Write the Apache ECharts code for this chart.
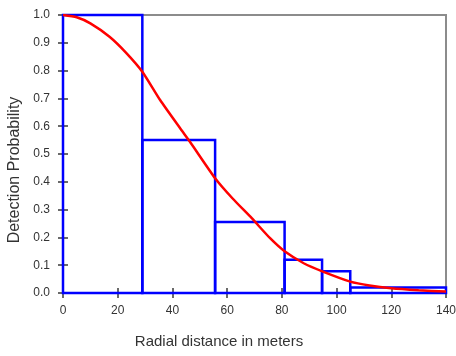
<!DOCTYPE html>
<html>
<head>
<meta charset="utf-8">
<script src="https://cdn.jsdelivr.net/npm/echarts@6/dist/echarts.min.js"></script>
<style>html,body{margin:0;padding:0;background:#fff;overflow:hidden}#c{width:456px;height:356px}</style>
</head>
<body>
<div id="c"></div>
<script>
// Histogram bins (radial distance edges) and heights
const binStarts = [0, 29, 55.6, 81, 94.7, 105];
const binEnds = [29, 55.6, 81, 94.7, 105, 140];
const binHeights = [1.0, 0.55, 0.255, 0.12, 0.078, 0.02];
// Fitted detection curve
const curveX = [0, 5, 10, 17, 23, 29, 35.5, 43, 46.4, 55.6, 62, 69, 75.7, 81, 88, 95, 105, 112, 120, 130, 140];
const curveY = [1.0, 0.992, 0.97, 0.922, 0.865, 0.796, 0.694, 0.59, 0.544, 0.413, 0.34, 0.269, 0.197, 0.150, 0.107, 0.077, 0.041, 0.027, 0.017, 0.01, 0.005];
const xTicks = [0, 20, 40, 60, 80, 100, 120, 140];
const yTicks = [0, 0.1, 0.2, 0.3, 0.4, 0.5, 0.6, 0.7, 0.8, 0.9, 1.0];
const xTitle = 'Radial distance in meters';
const yTitle = 'Detection Probability';

const binData = binStarts.map((s, i) => [s, binEnds[i], binHeights[i]]);
const curveData = curveX.map((x, i) => [x, curveY[i]]);
const font = 'Liberation Sans, Arial, sans-serif';
const tickColor = '#3a3a3a';

const chart = echarts.init(document.getElementById('c'));
chart.setOption({
  animation: false,
  grid: { left: 63, right: 10, top: 15, bottom: 63, containLabel: false, outerBoundsMode: 'none', show: true, borderColor: '#8c8c8c', borderWidth: 2, backgroundColor: '#fff' },
  xAxis: [{
    type: 'value', min: xTicks[0], max: xTicks[xTicks.length - 1], interval: 20,
    name: xTitle, nameLocation: 'middle', nameGap: 41,
    nameTextStyle: { fontFamily: font, fontSize: 15, color: '#333', padding: [0, 71, 0, 0] },
    axisLine: { show: true, lineStyle: { color: '#808080', width: 2 } },
    axisTick: { show: true, inside: false, length: 5, lineStyle: { color: tickColor, width: 1.5 } },
    axisLabel: { margin: 12, fontFamily: font, fontSize: 12, color: '#333', formatter: v => String(v) },
    splitLine: { show: false }
  }, {
    type: 'value', min: xTicks[0], max: xTicks[xTicks.length - 1], interval: 20, position: 'bottom',
    axisLine: { show: false },
    axisTick: { show: true, inside: true, length: 5, lineStyle: { color: tickColor, width: 1.5 } },
    axisLabel: { show: false }, splitLine: { show: false }
  }],
  yAxis: [{
    type: 'value', min: yTicks[0], max: yTicks[yTicks.length - 1], interval: 0.1,
    name: yTitle, nameLocation: 'middle', nameGap: 37,
    nameTextStyle: { fontFamily: font, fontSize: 16, color: '#333', padding: [0, 32, 0, 0] },
    axisLine: { show: true, lineStyle: { color: '#808080', width: 2 } },
    axisTick: { show: true, inside: false, length: 5, lineStyle: { color: tickColor, width: 1.5 } },
    axisLabel: { margin: 13, fontFamily: font, fontSize: 12, color: '#333', formatter: v => v.toFixed(1) },
    splitLine: { show: false }
  }, {
    type: 'value', min: yTicks[0], max: yTicks[yTicks.length - 1], interval: 0.1, position: 'left',
    axisLine: { show: false },
    axisTick: { show: true, inside: true, length: 5, lineStyle: { color: tickColor, width: 1.5 } },
    axisLabel: { show: false }, splitLine: { show: false }
  }],
  series: [{
    type: 'custom',
    xAxisIndex: 0, yAxisIndex: 0,
    data: binData,
    encode: { x: [0, 1], y: 2 },
    renderItem: function (params, api) {
      const p0 = api.coord([api.value(0), 0]);
      const p1 = api.coord([api.value(1), api.value(2)]);
      return {
        type: 'rect',
        shape: { x: p0[0], y: p1[1], width: p1[0] - p0[0], height: p0[1] - p1[1] },
        style: { fill: 'none', stroke: '#0000ff', lineWidth: 2.5 }
      };
    },
    z: 3
  }, {
    type: 'line',
    xAxisIndex: 0, yAxisIndex: 0,
    data: curveData,
    smooth: 0.2,
    showSymbol: false,
    lineStyle: { color: '#ff0000', width: 2.5 },
    z: 4
  }]
});
</script>
</body>
</html>
